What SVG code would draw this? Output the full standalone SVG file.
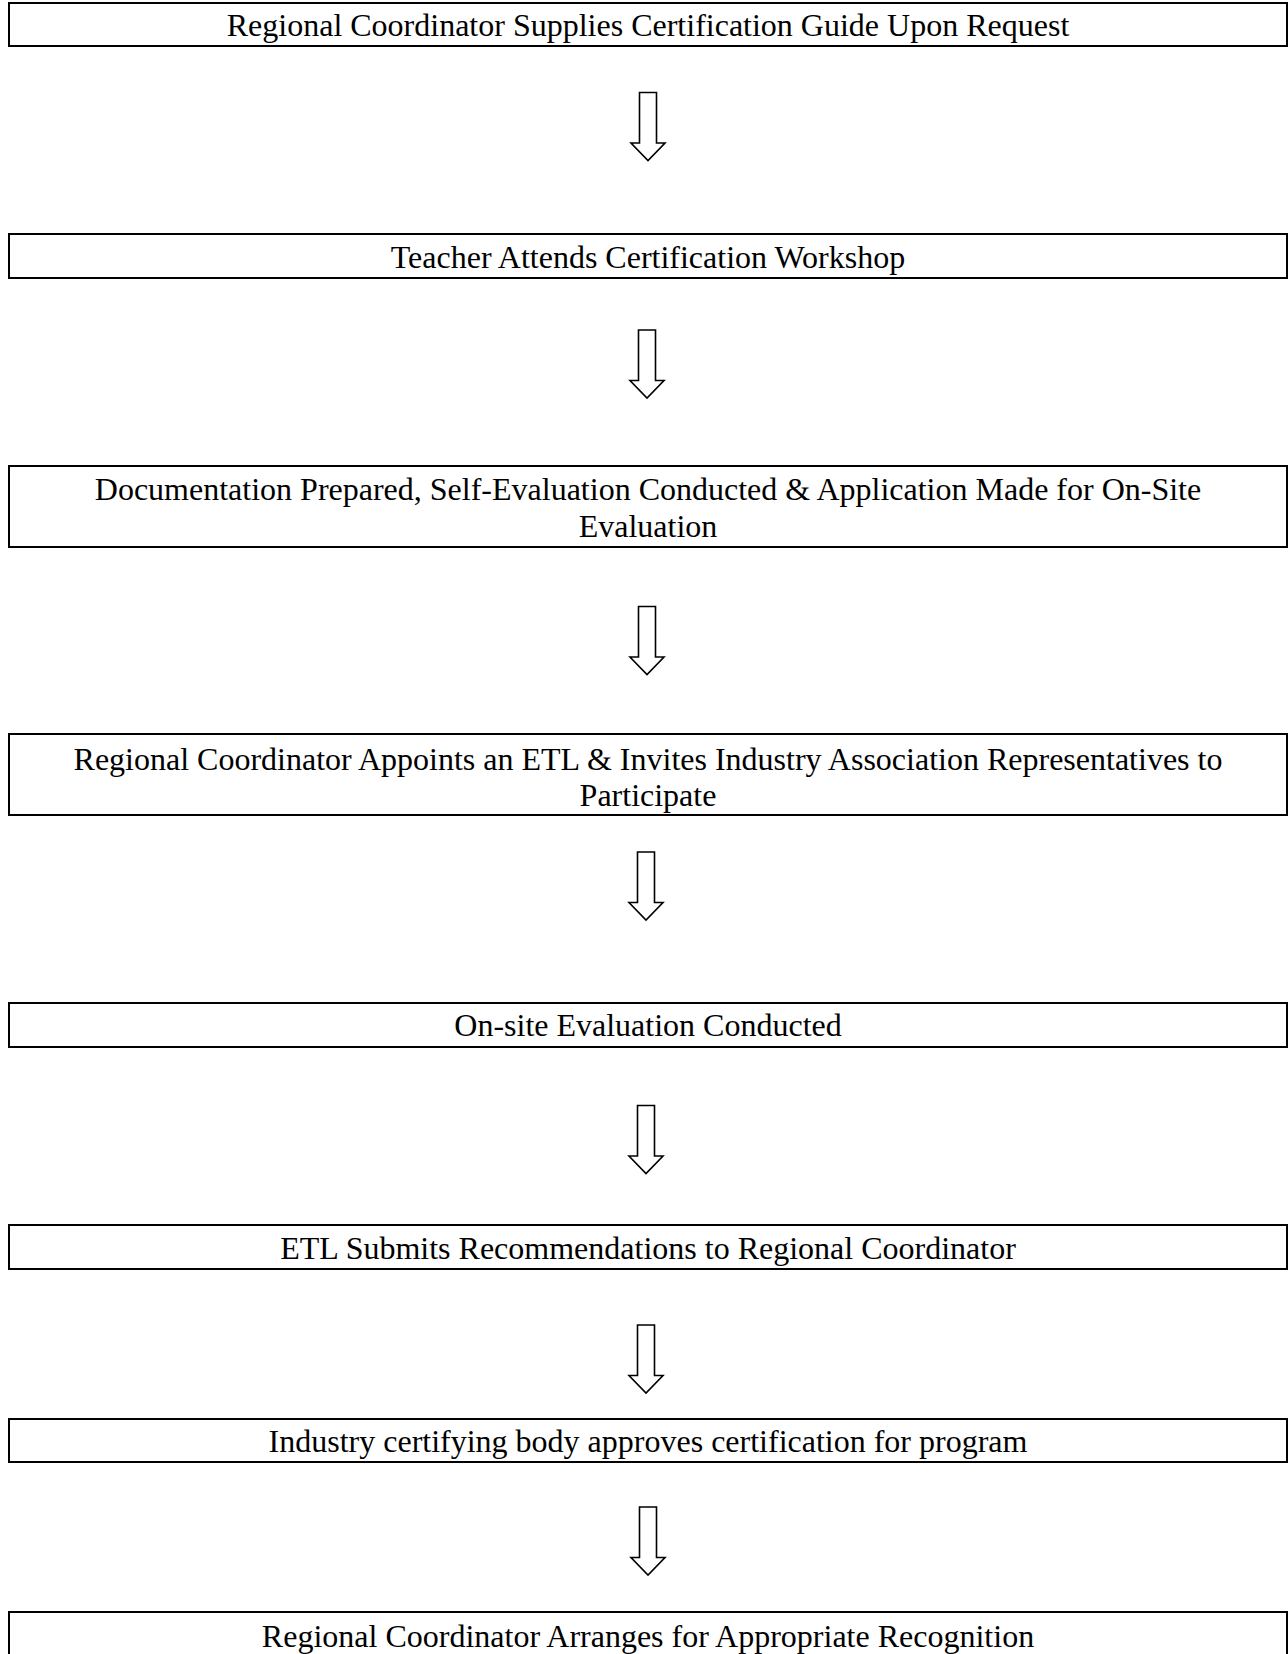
<svg xmlns="http://www.w3.org/2000/svg" xmlns:xlink="http://www.w3.org/1999/xlink" width="1288" height="1654" viewBox="0 0 1288 1654">
<style>
.box{fill:#fff;stroke:#000;stroke-width:2}
.lbl{font-family:"Liberation Serif","Times New Roman",serif;font-size:32px;fill:#000;text-anchor:middle}
.arr{fill:#fff;stroke:#000;stroke-width:1.6;stroke-linejoin:miter}
</style>
<defs>
<path id="barrow" d="M -8.5 0 H 8.5 V 50.5 H 17 L 0 68 L -17 50.5 H -8.5 Z"/>
</defs>
<rect width="1288" height="1654" fill="#fff"/>
<g id="connectors">
<use xlink:href="#barrow" class="arr" transform="translate(648,92.5)"/>
<use xlink:href="#barrow" class="arr" transform="translate(647,330)"/>
<use xlink:href="#barrow" class="arr" transform="translate(647,606.5)"/>
<use xlink:href="#barrow" class="arr" transform="translate(646,852)"/>
<use xlink:href="#barrow" class="arr" transform="translate(646,1105.5)"/>
<use xlink:href="#barrow" class="arr" transform="translate(646,1325)"/>
<use xlink:href="#barrow" class="arr" transform="translate(648,1507)"/>
</g>
<g id="n1"><rect class="box" x="9" y="3" width="1278" height="43"/><text class="lbl" x="648" y="36">Regional Coordinator Supplies Certification Guide Upon Request</text></g>
<g id="n2"><rect class="box" x="9" y="234" width="1278" height="44"/><text class="lbl" x="648" y="267.5">Teacher Attends Certification Workshop</text></g>
<g id="n3"><rect class="box" x="9" y="466" width="1278" height="81"/><text class="lbl" x="648" y="500">Documentation Prepared, Self-Evaluation Conducted &amp; Application Made for On-Site</text><text class="lbl" x="648" y="536.5">Evaluation</text></g>
<g id="n4"><rect class="box" x="9" y="734" width="1278" height="81"/><text class="lbl" x="648" y="769.5">Regional Coordinator Appoints an ETL &amp; Invites Industry Association Representatives to</text><text class="lbl" x="648" y="806">Participate</text></g>
<g id="n5"><rect class="box" x="9" y="1003" width="1278" height="44"/><text class="lbl" x="648" y="1036">On-site Evaluation Conducted</text></g>
<g id="n6"><rect class="box" x="9" y="1225" width="1278" height="44"/><text class="lbl" x="648" y="1258.5">ETL Submits Recommendations to Regional Coordinator</text></g>
<g id="n7"><rect class="box" x="9" y="1419" width="1278" height="43"/><text class="lbl" x="648" y="1452">Industry certifying body approves certification for program</text></g>
<g id="n8"><rect class="box" x="9" y="1612" width="1278" height="60"/><text class="lbl" x="648" y="1647">Regional Coordinator Arranges for Appropriate Recognition</text></g>
</svg>
